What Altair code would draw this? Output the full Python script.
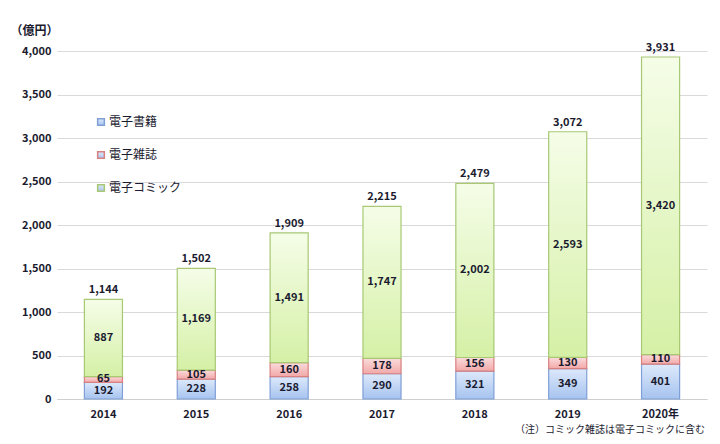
import altair as alt
import pandas as pd

years = ["2014", "2015", "2016", "2017", "2018", "2019", "2020年"]
ebook = [192, 228, 258, 290, 321, 349, 401]
magazine = [65, 105, 160, 178, 156, 130, 110]
comic = [887, 1169, 1491, 1747, 2002, 2593, 3420]
totals = [1144, 1502, 1909, 2215, 2479, 3072, 3931]
series = ["電子書籍", "電子雑誌", "電子コミック"]

rows = []
for i, yr in enumerate(years):
    for k, (s, vals) in enumerate(zip(series, [ebook, magazine, comic])):
        rows.append({"year": yr, "series": s, "order": k, "value": vals[i]})
df = pd.DataFrame(rows)
tot_df = pd.DataFrame({"year": years, "total": totals})

FONT = "Noto Sans CJK JP"
TXT = "#1b1b2f"

fills = {
    "電子書籍": ("#dde9fb", "#a6c3ef"),
    "電子雑誌": ("#fbdcdc", "#f2a8a8"),
    "電子コミック": ("#f5fde8", "#d5f0a6"),
}
strokes = ["#7f9fd6", "#d98080", "#a8c874"]

x_axis = alt.Axis(title=None, labelAngle=0, ticks=False, domainColor="#cfcfcf",
                  grid=False, labelFontWeight="bold", labelFontSize=11,
                  labelColor=TXT, labelPadding=9, labelFont=FONT)
x_scale = alt.Scale(paddingInner=0.59, paddingOuter=0.295)

y_scale = alt.Scale(domain=[0, 4000])
y_axis = alt.Axis(title="（億円）", titleAngle=0, titleX=-47, titleY=-21,
                  titleAlign="left", titleBaseline="middle", titleFontSize=12,
                  titleFontWeight="bold", titleColor=TXT, titleFont=FONT,
                  values=list(range(0, 4001, 500)), format=",.0f",
                  labelFontSize=11, labelFontWeight="bold", labelColor=TXT,
                  labelFont=FONT, labelPadding=6, grid=True,
                  ticks=False, domain=False, gridColor="#d9d9d9")

base = alt.Chart(df).transform_stack(
    stack="value", as_=["y0", "y1"], groupby=["year"],
    sort=[alt.SortField("order")]
).transform_calculate(mid="(datum.y0 + datum.y1) / 2")

layers = []
for i, s in enumerate(series):
    top, bot = fills[s]
    grad = alt.Gradient(gradient="linear", x1=0, y1=0, x2=0, y2=1,
                        stops=[alt.GradientStop(color=top, offset=0),
                               alt.GradientStop(color=bot, offset=1)])
    lay = base.transform_filter(alt.datum.series == s).mark_bar(
        fill=grad, strokeWidth=1.2
    ).encode(
        x=alt.X("year:N", sort=years, scale=x_scale, axis=x_axis),
        y=alt.Y("y0:Q", scale=y_scale, axis=y_axis),
        y2="y1:Q",
        stroke=alt.Stroke(
            "series:N",
            scale=alt.Scale(domain=series, range=strokes),
            legend=alt.Legend(title=None, orient="none", legendX=38, legendY=65,
                              symbolType="square", symbolSize=45,
                              symbolStrokeWidth=1.5, symbolFillColor="#ffffff",
                              labelFontSize=12, labelColor=TXT, labelFont=FONT,
                              rowPadding=19, labelOffset=2),
        ),
    )
    layers.append(lay)

seg_text = base.mark_text(fontSize=11, fontWeight="bold", color=TXT, font=FONT,
                          baseline="middle").encode(
    x=alt.X("year:N", sort=years, scale=x_scale, axis=x_axis),
    y=alt.Y("mid:Q", scale=y_scale, axis=y_axis),
    text=alt.Text("value:Q", format=","),
)

tot_text = alt.Chart(tot_df).mark_text(fontSize=11, fontWeight="bold", color=TXT,
                                       font=FONT, baseline="bottom", dy=-4).encode(
    x=alt.X("year:N", sort=years, scale=x_scale, axis=x_axis),
    y=alt.Y("total:Q", scale=y_scale, axis=y_axis),
    text=alt.Text("total:Q", format=","),
)

chart = alt.layer(*layers, seg_text, tot_text).properties(
    width=650, height=348,
    autosize=alt.AutoSizeParams(type="none"),
    padding={"left": 49, "top": 43, "right": 3, "bottom": 42},
    title=alt.TitleParams("（注）コミック雑誌は電子コミックに含む", orient="bottom",
                          anchor="end", fontSize=10, fontWeight="normal",
                          color=TXT, font=FONT, offset=6, dx=-2),
).configure_view(stroke=None)

chart.save("out.html", embed_options={"renderer": "svg", "actions": False})
